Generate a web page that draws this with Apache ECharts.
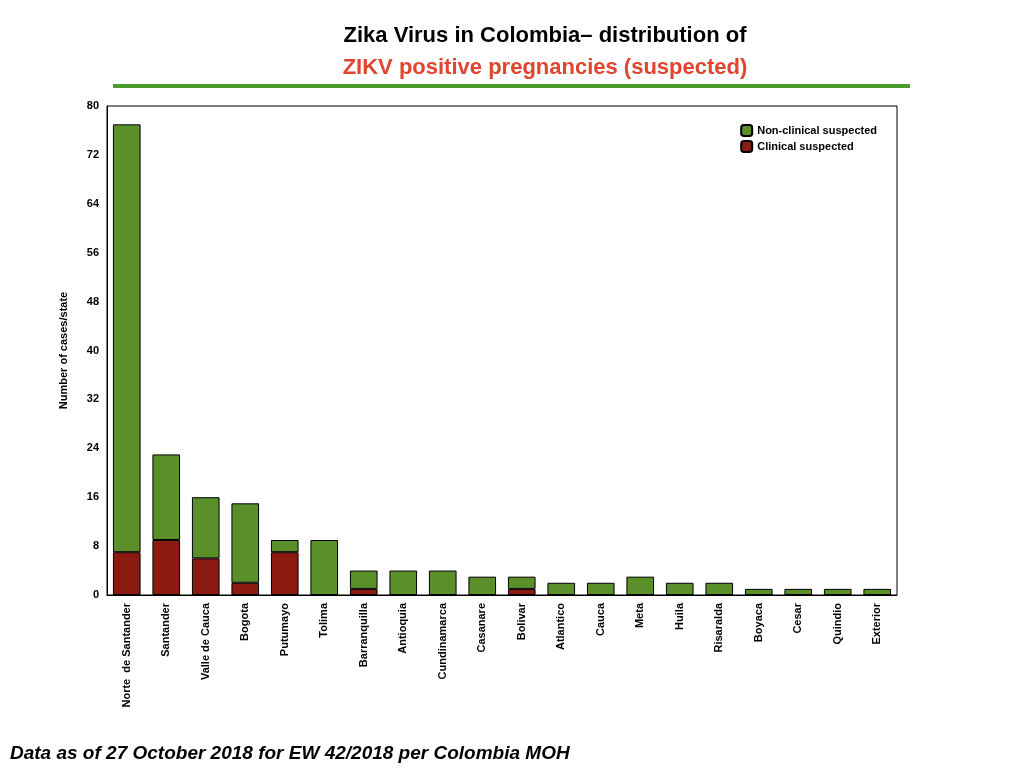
<!DOCTYPE html>
<html lang="en">
<head>
    <meta charset="UTF-8">
    <title>Zika Virus in Colombia</title>
    <script src="https://cdn.jsdelivr.net/npm/echarts@6/dist/echarts.min.js"></script>
    <style>
        * { margin: 0; padding: 0; box-sizing: border-box; }
        body { width: 1024px; height: 768px; background: #fff; font-family: "Liberation Sans", Arial, sans-serif; }
        #chart { width: 1024px; height: 768px; }
    </style>
</head>
<body>
    <div id="chart"></div>
    <script>
        const states = ['Norte  de Santander', 'Santander', 'Valle de Cauca', 'Bogota', 'Putumayo', 'Tolima',
            'Barranquilla', 'Antioquia', 'Cundinamarca', 'Casanare', 'Bolivar', 'Atlantico', 'Cauca', 'Meta',
            'Huila', 'Risaralda', 'Boyaca', 'Cesar', 'Quindio', 'Exterior'];
        const clinical = [7, 9, 6, 2, 7, 0, 1, 0, 0, 0, 1, 0, 0, 0, 0, 0, 0, 0, 0, 0];
        const nonClinical = [70, 14, 10, 13, 2, 9, 3, 4, 4, 3, 2, 2, 2, 3, 2, 2, 1, 1, 1, 1];
        const yTicks = { min: 0, max: 80, interval: 8 };

        const chart = echarts.init(document.getElementById('chart'));
        chart.setOption({
            animation: false,
            title: [
                {
                    text: 'Zika Virus in Colombia\u2013 distribution of',
                    left: 540, top: 20, textAlign: 'center',
                    textStyle: { fontSize: 22, fontWeight: 'bold', color: '#000' }
                },
                {
                    text: 'ZIKV positive pregnancies (suspected)',
                    left: 540, top: 52, textAlign: 'center',
                    textStyle: { fontSize: 22, fontWeight: 'bold', color: '#e0452f' }
                },
                {
                    text: 'Data as of 27 October 2018 for EW 42/2018 per Colombia MOH',
                    left: 5, top: 739,
                    textStyle: { fontSize: 19, fontWeight: 'bold', fontStyle: 'italic', color: '#000' }
                }
            ],
            graphic: [{
                type: 'rect',
                shape: { x: 113, y: 84, width: 797, height: 4 },
                style: { fill: '#4a9a2e' }
            }],
            legend: {
                orient: 'vertical', right: 142, top: 119,
                itemWidth: 11, itemHeight: 11, itemGap: 3,
                data: ['Non-clinical suspected', 'Clinical suspected'],
                textStyle: { fontSize: 11, fontWeight: 'bold', color: '#000' }
            },
            grid: {
                left: 107, right: 127, top: 106, bottom: 173,
                show: true, borderColor: '#000', borderWidth: 1
            },
            xAxis: {
                type: 'category',
                data: states,
                axisLine: { lineStyle: { color: '#000' } },
                axisTick: { show: false },
                axisLabel: { rotate: 90, fontSize: 11, fontWeight: 'bold', color: '#000', margin: 8 }
            },
            yAxis: {
                type: 'value',
                min: yTicks.min, max: yTicks.max, interval: yTicks.interval,
                name: 'Number of cases/state',
                nameLocation: 'middle', nameGap: 38,
                nameTextStyle: { fontSize: 11, fontWeight: 'bold', color: '#000' },
                splitLine: { show: false },
                axisLine: { show: true, lineStyle: { color: '#000' } },
                axisTick: { show: false },
                axisLabel: { fontSize: 11, fontWeight: 'bold', color: '#000' }
            },
            series: [
                {
                    name: 'Clinical suspected',
                    type: 'bar', stack: 'total', barWidth: '70%',
                    data: clinical,
                    itemStyle: { color: '#8b1a10', borderColor: '#000', borderWidth: 1 }
                },
                {
                    name: 'Non-clinical suspected',
                    type: 'bar', stack: 'total', barWidth: '70%',
                    data: nonClinical,
                    itemStyle: { color: '#5b8f29', borderColor: '#000', borderWidth: 1 }
                }
            ]
        });
    </script>
</body>
</html>
